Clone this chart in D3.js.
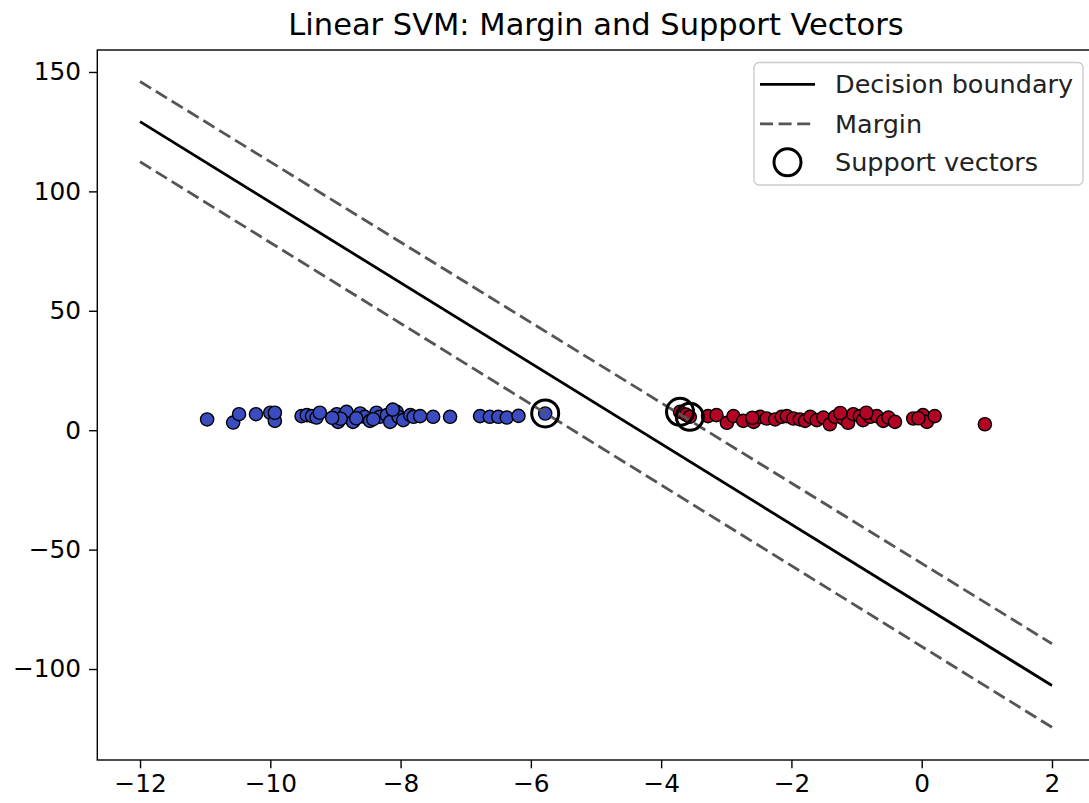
<!DOCTYPE html>
<html><head><meta charset="utf-8">
<script src="https://cdn.jsdelivr.net/npm/d3@7"></script>
<style>body{margin:0;background:#fff}svg{display:block}text{font-family:"DejaVu Sans",sans-serif}</style>
</head><body>
<script>
const title = "Linear SVM: Margin and Support Vectors";
const xTicks = [-12, -10, -8, -6, -4, -2, 0, 2];
const yTicks = [150, 100, 50, 0, -50, -100];
const blueX = [-10.97,-10.57,-10.48,-10.22,-10.0,-9.93,-9.93,-9.52,-9.44,-9.36,-9.29,-9.24,-8.98,-8.96,-8.88,-8.83,-8.73,-8.62,-8.55,-8.47,-8.37,-8.32,-8.21,-8.16,-8.06,-8.03,-7.96,-7.85,-7.80,-7.70,-7.50,-7.24,-6.78,-6.63,-6.50,-6.37,-6.19,-8.92,-8.68,-8.42,-8.12,-9.05,-5.78];
const blueY = [4.5,3.2,6.7,6.7,7.3,3.9,7.3,5.9,6.3,5.9,5.3,7.3,6.7,3.5,5.6,7.7,3.5,7.0,5.6,3.9,7.3,5.6,6.3,3.5,7.7,5.6,4.2,6.3,5.6,5.9,5.6,5.6,5.9,5.6,5.6,5.3,6.0,4.8,5.0,4.6,8.6,5.2,7.0];
const redX = [-3.71,-3.62,-3.56,-3.28,-3.15,-2.99,-2.89,-2.74,-2.58,-2.48,-2.38,-2.25,-2.15,-2.07,-1.97,-1.87,-1.79,-1.71,-1.61,-1.51,-1.41,-1.33,-1.20,-1.13,-1.05,-0.95,-0.90,-0.79,-0.69,-0.59,-0.51,-0.41,-0.13,0.02,0.08,0.20,0.97,-1.25,-0.85,-0.05,-2.6];
const redY = [7.7,6.5,5.6,5.9,6.3,3.1,5.9,3.9,3.5,5.6,4.9,4.5,5.6,5.9,4.9,4.5,3.9,5.6,4.2,5.3,2.5,5.6,4.9,3.1,6.7,5.9,4.2,5.6,5.9,3.9,5.3,3.5,4.9,6.3,3.5,5.9,2.5,7.2,7.3,5.0,5.2];
const svX = [-5.78, -3.71, -3.56];
const svY = [7.0, 7.7, 5.6];
const lineX = [-12, 2];
const boundaryY = [129.2, -106.9];
const marginUpperY = [146.0, -89.4];
const marginLowerY = [112.4, -124.4];
const legendLabels = ["Decision boundary", "Margin", "Support vectors"];

const W = 1089, H = 803;
const L = 97.3, R = 1094.7, T = 50, B = 760;
const svg = d3.select("body").append("svg").attr("width", W).attr("height", H);
const x = d3.scaleLinear().domain([-12.656, 2.656]).range([L, R]);
const y = d3.scaleLinear().domain([-138.1, 159.2]).range([B, T]);

const FS = 24.8, LFS = 25.5;
const fmt = d => d < 0 ? "\u2212" + Math.abs(d) : d;
const xAxis = svg.append("g").attr("transform", `translate(0,${B})`)
  .call(d3.axisBottom(x).tickValues(xTicks).tickSize(8.3).tickPadding(6).tickFormat(fmt));
const yAxis = svg.append("g").attr("transform", `translate(${L},0)`)
  .call(d3.axisLeft(y).tickValues(yTicks).tickSize(8.3).tickPadding(8).tickFormat(fmt));
[xAxis, yAxis].forEach(g => {
  g.select(".domain").remove();
  g.selectAll(".tick line").attr("stroke", "#000").attr("stroke-width", 1.4);
  g.selectAll(".tick text").attr("fill", "#000").style("font-size", FS + "px").style("font-family", "DejaVu Sans");
});
svg.append("rect").attr("x", L).attr("y", T).attr("width", R - L).attr("height", B - T)
  .attr("fill", "none").attr("stroke", "#000").attr("stroke-width", 1.4);

const pts = svg.append("g");
pts.selectAll(".b").data(blueX.map((v, i) => [v, blueY[i]])).join("circle")
  .attr("cx", d => x(d[0])).attr("cy", d => y(d[1])).attr("r", 6.6)
  .attr("fill", "#3b4cc0").attr("stroke", "#000").attr("stroke-width", 1.4);
pts.selectAll(".r").data(redX.map((v, i) => [v, redY[i]])).join("circle")
  .attr("cx", d => x(d[0])).attr("cy", d => y(d[1])).attr("r", 6.6)
  .attr("fill", "#b40426").attr("stroke", "#000").attr("stroke-width", 1.4);

const line = d3.line().x(d => x(d[0])).y(d => y(d[1]));
const mk = ys => lineX.map((v, i) => [v, ys[i]]);
svg.append("path").attr("d", line(mk(boundaryY))).attr("fill", "none").attr("stroke", "#000").attr("stroke-width", 2.8);
[marginUpperY, marginLowerY].forEach(ys => {
  svg.append("path").attr("d", line(mk(ys))).attr("fill", "none").attr("stroke", "#555")
    .attr("stroke-width", 2.8).attr("stroke-dasharray", "13,5.6");
});

svg.append("g").selectAll("circle").data(svX.map((v, i) => [v, svY[i]])).join("circle")
  .attr("cx", d => x(d[0])).attr("cy", d => y(d[1])).attr("r", 13.5)
  .attr("fill", "none").attr("stroke", "#000").attr("stroke-width", 3);

svg.append("text").attr("x", (L + R) / 2).attr("y", 35).attr("text-anchor", "middle")
  .style("font-size", "30.5px").attr("fill", "#000").text(title);

const lg = svg.append("g");
lg.append("rect").attr("x", 754).attr("y", 62.5).attr("width", 329).attr("height", 122.5).attr("rx", 5)
  .attr("fill", "#fff").attr("fill-opacity", 0.8).attr("stroke", "#ccc").attr("stroke-width", 1.4);
const rowY = [84.3, 123.8, 162.3];
lg.append("line").attr("x1", 760).attr("x2", 815).attr("y1", rowY[0]).attr("y2", rowY[0]).attr("stroke", "#000").attr("stroke-width", 2.8);
lg.append("line").attr("x1", 760).attr("x2", 815).attr("y1", rowY[1]).attr("y2", rowY[1]).attr("stroke", "#555").attr("stroke-width", 2.8).attr("stroke-dasharray", "13,5.6");
lg.append("circle").attr("cx", 787.5).attr("cy", rowY[2]).attr("r", 13.5).attr("fill", "none").attr("stroke", "#000").attr("stroke-width", 3);
legendLabels.forEach((t, i) => {
  lg.append("text").attr("x", 835).attr("y", rowY[i] + 9).style("font-size", LFS + "px").attr("fill", "#222").text(t);
});
</script>
</body></html>
